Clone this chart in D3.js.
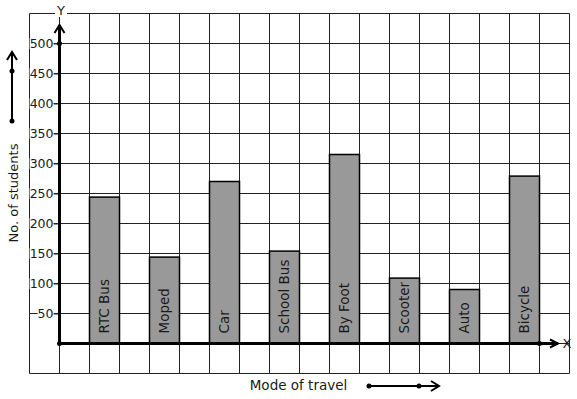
<!DOCTYPE html>
<html>
<head>
<meta charset="utf-8">
<script src="https://cdn.jsdelivr.net/npm/d3@7"></script>
<style>
  body { margin: 0; background: #fff; }
  text { font-family: "DejaVu Sans", sans-serif; fill: #1a1a1a; }
</style>
</head>
<body>
<div id="chart"></div>
<script>
const categories = ["RTC Bus", "Moped", "Car", "School Bus", "By Foot", "Scooter", "Auto", "Bicycle"];
const students = [244, 144, 270, 154, 315, 109, 90, 279];
const yTicks = [50, 100, 150, 200, 250, 300, 350, 400, 450, 500];

const width = 577, height = 399;

const svg = d3.select("#chart")
  .append("svg")
  .attr("width", width)
  .attr("height", height);

// grid units: one cell = 30px
const gx = d3.scaleLinear().domain([-1, 17]).range([29.5, 569.5]);
const y = d3.scaleLinear().domain([-50, 550]).range([373.5, 13.5]);

const x = d3.scaleBand()
  .domain(categories)
  .range([74.5, 554.5])
  .paddingInner(0.5)
  .paddingOuter(0.25);

// grid
const grid = svg.append("g").attr("stroke", "#222").attr("stroke-width", 1);
grid.selectAll("line.v")
  .data(d3.range(-1, 18))
  .enter().append("line")
  .attr("x1", d => gx(d)).attr("x2", d => gx(d))
  .attr("y1", y(550)).attr("y2", y(-50));
grid.selectAll("line.h")
  .data(d3.range(-50, 551, 50))
  .enter().append("line")
  .attr("x1", d => d === 0 ? gx(0) : gx(-1)).attr("x2", gx(17))
  .attr("y1", d => y(d)).attr("y2", d => y(d));

// bars
svg.selectAll("rect.bar")
  .data(categories)
  .enter().append("rect")
  .attr("class", "bar")
  .attr("x", d => x(d))
  .attr("y", (d, i) => y(students[i]))
  .attr("width", x.bandwidth())
  .attr("height", (d, i) => y(0) - y(students[i]))
  .attr("fill", "#999")
  .attr("stroke", "#000")
  .attr("stroke-width", 1.5);

// bar labels
svg.selectAll("text.bl")
  .data(categories)
  .enter().append("text")
  .attr("transform", d => `translate(${x(d) + x.bandwidth() / 2}, ${y(0) - 10}) rotate(-90)`)
  .attr("dy", "0.35em")
  .style("font-size", "13.5px")
  .text(d => d);

// y axis ticks and labels
const yAxis = svg.append("g")
  .attr("transform", `translate(${gx(0)}, 0)`)
  .call(d3.axisLeft(y).tickValues(yTicks).tickSize(6).tickPadding(0));
yAxis.select(".domain").remove();
yAxis.selectAll("line").attr("stroke", "#222");
yAxis.selectAll("text")
  .attr("fill", "#1a1a1a")
  .style("font-family", "DejaVu Sans")
  .style("font-size", "12.5px");
yAxis.selectAll(".tick").each(function () {
  const t = d3.select(this).select("text");
  const b = t.node().getBBox();
  d3.select(this).insert("rect", "text")
    .attr("x", b.x).attr("y", b.y + 2)
    .attr("width", b.width).attr("height", b.height - 4)
    .attr("fill", "#fff");
});

// axes with arrows
const axes = svg.append("g").attr("stroke", "#000").attr("fill", "none");
axes.append("line")
  .attr("x1", gx(0)).attr("x2", gx(0))
  .attr("y1", y(0)).attr("y2", 25)
  .attr("stroke-width", 3);
axes.append("path")
  .attr("d", `M${gx(0) - 5},33 L${gx(0)},25 L${gx(0) + 5},33`)
  .attr("stroke-width", 2);
axes.append("line")
  .attr("x1", gx(0)).attr("x2", 558)
  .attr("y1", y(0)).attr("y2", y(0))
  .attr("stroke-width", 3);
axes.append("path")
  .attr("d", `M550,${y(0) - 4} L558,${y(0)} L550,${y(0) + 4}`)
  .attr("stroke-width", 2);

const dots = [[gx(0), y(0)], [gx(0), y(500)], [gx(16), y(0)], [12, 121], [12, 71], [369, 386], [419, 386]];
svg.selectAll("circle")
  .data(dots)
  .enter().append("circle")
  .attr("cx", d => d[0]).attr("cy", d => d[1])
  .attr("r", 2.5)
  .attr("fill", "#000");

// axis letters
svg.append("rect").attr("x", 55).attr("y", 3).attr("width", 12).attr("height", 14).attr("fill", "#fff");
svg.append("text").attr("x", 61).attr("y", 15).attr("text-anchor", "middle").style("font-size", "13px").text("Y");
svg.append("text").attr("x", 567).attr("y", 348).attr("text-anchor", "middle").style("font-size", "13px").text("X");

// side arrows
const side = svg.append("g").attr("stroke", "#000").attr("fill", "none").attr("stroke-width", 2);
side.append("line").attr("x1", 12).attr("x2", 12).attr("y1", 121).attr("y2", 52);
side.append("path").attr("d", "M7,60 L12,52 L17,60");
side.append("line").attr("x1", 369).attr("x2", 439).attr("y1", 386).attr("y2", 386);
side.append("path").attr("d", "M431,381 L439,386 L431,391");

// titles
svg.append("text")
  .attr("x", 298.5).attr("y", 390)
  .attr("text-anchor", "middle")
  .style("font-size", "13.5px")
  .text("Mode of travel");
svg.append("text")
  .attr("transform", "translate(17.5, 193) rotate(-90)")
  .attr("text-anchor", "middle")
  .style("font-size", "13px")
  .text("No. of students");
</script>
</body>
</html>
